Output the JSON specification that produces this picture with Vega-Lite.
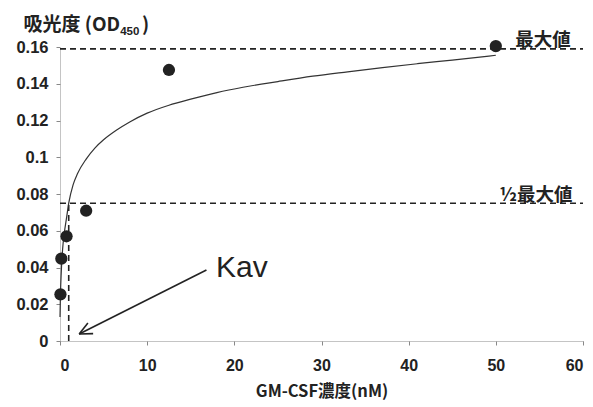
{
  "$schema": "https://vega.github.io/schema/vega-lite/v6.json",
  "width": 523,
  "height": 294,
  "autosize": {"type": "none"},
  "padding": {"left": 60, "top": 47, "right": 10, "bottom": 66},
  "background": "white",
  "config": {
    "view": {"stroke": null},
    "font": "Liberation Sans",
    "axis": {"labelOverlap": false}
  },
  "datasets": {
    "points": [
      {"conc": 0.05, "od": 0.0254},
      {"conc": 0.15, "od": 0.0448},
      {"conc": 0.75, "od": 0.057},
      {"conc": 3.0, "od": 0.0709},
      {"conc": 12.5, "od": 0.1475},
      {"conc": 50.0, "od": 0.1605}
    ],
    "curve": [
      {"conc": 0.0, "od": 0.013},
      {"conc": 0.05, "od": 0.025},
      {"conc": 0.15, "od": 0.038},
      {"conc": 0.3, "od": 0.05},
      {"conc": 0.5, "od": 0.059},
      {"conc": 0.75, "od": 0.067},
      {"conc": 1.0, "od": 0.075},
      {"conc": 1.5, "od": 0.085},
      {"conc": 2.0, "od": 0.091},
      {"conc": 3.0, "od": 0.099},
      {"conc": 4.0, "od": 0.105},
      {"conc": 5.0, "od": 0.1095},
      {"conc": 6.5, "od": 0.1148},
      {"conc": 8.0, "od": 0.1192},
      {"conc": 10.0, "od": 0.124},
      {"conc": 12.5, "od": 0.1283},
      {"conc": 15.0, "od": 0.1316},
      {"conc": 18.0, "od": 0.1352},
      {"conc": 21.0, "od": 0.1381},
      {"conc": 25.0, "od": 0.1412},
      {"conc": 29.0, "od": 0.1441},
      {"conc": 33.0, "od": 0.1465},
      {"conc": 37.0, "od": 0.1488},
      {"conc": 41.0, "od": 0.1509},
      {"conc": 45.0, "od": 0.1529},
      {"conc": 50.0, "od": 0.1555}
    ],
    "refs": [
      {"conc": 0, "conc2": 60, "od": 0.159, "od2": 0.159},
      {"conc": 0, "conc2": 60, "od": 0.075, "od2": 0.075},
      {"conc": 1.0, "conc2": 1.0, "od": 0, "od2": 0.075}
    ],
    "arrow": [
      {"conc": 16.8, "conc2": 2.2, "od": 0.0386, "od2": 0.0038},
      {"conc": 2.2, "conc2": 3.2, "od": 0.0038, "od2": 0.0098},
      {"conc": 2.2, "conc2": 3.8, "od": 0.0038, "od2": 0.004}
    ],
    "labels": [
      {"conc": 55.4, "od": 0.1584, "label": "最大値"},
      {"conc": 54.6, "od": 0.0742, "label": "½最大値"}
    ],
    "kav": [
      {"conc": 17.9, "od": 0.0395, "label": "Kav"}
    ],
    "ytitle": [
      {"conc": 6.9, "od": 0.1688, "label": "吸光度 (OD"}
    ],
    "ysub": [
      {"conc": 6.9, "od": 0.1664, "label": "450"}
    ],
    "yparen": [
      {"conc": 9.4, "od": 0.1688, "label": ")"}
    ]
  },
  "encoding": {
    "x": {"field": "conc", "type": "quantitative", "scale": {"domain": [0, 60]},
      "axis": {
        "values": [0, 10, 20, 30, 40, 50, 60],
        "title": "GM-CSF濃度(nM)",
        "titleFont": "Noto Sans CJK JP",
        "titleFontSize": 16.5,
        "titleFontWeight": "bold",
        "titleColor": "#222",
        "titlePadding": 10,
        "labelFont": "Liberation Sans",
        "labelFontSize": 16,
        "labelFontWeight": "bold",
        "labelColor": "#222",
        "labelPadding": 12,
        "labelOverlap": false,
        "grid": false,
        "domainColor": "#888",
        "domainDash": [1, 1],
        "tickColor": "#888",
        "tickSize": 4
      }
    },
    "y": {"field": "od", "type": "quantitative", "scale": {"domain": [0, 0.16]},
      "axis": {
        "values": [0, 0.02, 0.04, 0.06, 0.08, 0.1, 0.12, 0.14, 0.16],
        "format": ".2~f",
        "labelOverlap": false,
        "title": null,
        "labelFont": "Liberation Sans",
        "labelFontSize": 16.5,
        "labelFontWeight": "bold",
        "labelColor": "#222",
        "labelPadding": 8,
        "grid": false,
        "domainColor": "#888",
        "domainDash": [1, 1],
        "tickColor": "#888",
        "tickSize": 4
      }
    }
  },
  "layer": [
    {
      "data": {"name": "refs"},
      "mark": {"type": "rule", "strokeDash": [6, 4], "strokeWidth": 1.6, "color": "#222"},
      "encoding": {
        "x2": {"field": "conc2"},
        "y2": {"field": "od2"}
      }
    },
    {
      "data": {"name": "curve"},
      "mark": {"type": "line", "interpolate": "monotone", "strokeWidth": 1.2, "color": "#333"},
      "encoding": {}
    },
    {
      "data": {"name": "points"},
      "mark": {"type": "point", "filled": true, "shape": "circle", "size": 150, "color": "#222", "opacity": 1},
      "encoding": {}
    },
    {
      "data": {"name": "arrow"},
      "mark": {"type": "rule", "strokeWidth": 1.6, "color": "#222"},
      "encoding": {
        "x2": {"field": "conc2"},
        "y2": {"field": "od2"}
      }
    },
    {
      "data": {"name": "labels"},
      "mark": {"type": "text", "font": "Noto Sans CJK JP", "fontWeight": "bold", "fontSize": 18.5, "color": "#222", "align": "center", "baseline": "bottom"},
      "encoding": {
        "text": {"field": "label"}
      }
    },
    {
      "data": {"name": "kav"},
      "mark": {"type": "text", "font": "Liberation Sans", "fontSize": 30, "color": "#222", "align": "left", "baseline": "middle"},
      "encoding": {
        "text": {"field": "label"}
      }
    },
    {
      "data": {"name": "ytitle"},
      "mark": {"type": "text", "font": "Noto Sans CJK JP", "fontWeight": "bold", "fontSize": 19, "color": "#222", "align": "right", "baseline": "alphabetic"},
      "encoding": {
        "text": {"field": "label"}
      }
    },
    {
      "data": {"name": "ysub"},
      "mark": {"type": "text", "font": "Liberation Sans", "fontWeight": "bold", "fontSize": 11.5, "color": "#222", "align": "left", "baseline": "alphabetic"},
      "encoding": {
        "text": {"field": "label"}
      }
    },
    {
      "data": {"name": "yparen"},
      "mark": {"type": "text", "font": "Noto Sans CJK JP", "fontWeight": "bold", "fontSize": 19, "color": "#222", "align": "left", "baseline": "alphabetic"},
      "encoding": {
        "text": {"field": "label"}
      }
    }
  ]
}
